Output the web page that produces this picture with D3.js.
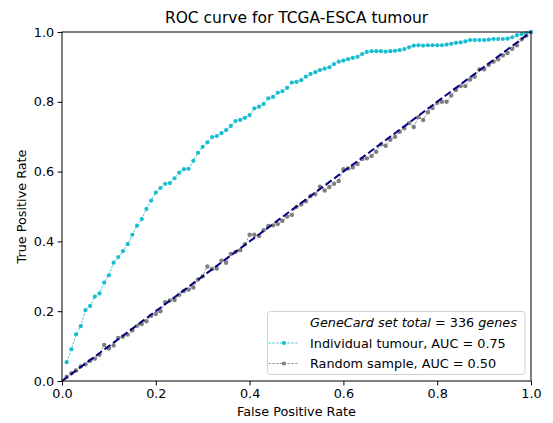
<!DOCTYPE html>
<html>
<head>
<meta charset="utf-8">
<script src="https://cdn.jsdelivr.net/npm/d3@7/dist/d3.min.js"></script>
<style>
  html, body { margin: 0; padding: 0; background: #fff; }
  svg { display: block; font-family: "DejaVu Sans", sans-serif; }
</style>
</head>
<body>
<svg id="chart" width="553" height="423"></svg>
<script>
const fpr = [0.01,0.02,0.03,0.04,0.05,0.06,0.07,0.08,0.09,0.10,
0.11,0.12,0.13,0.14,0.15,0.16,0.17,0.18,0.19,0.20,
0.21,0.22,0.23,0.24,0.25,0.26,0.27,0.28,0.29,0.30,
0.31,0.32,0.33,0.34,0.35,0.36,0.37,0.38,0.39,0.40,
0.41,0.42,0.43,0.44,0.45,0.46,0.47,0.48,0.49,0.50,
0.51,0.52,0.53,0.54,0.55,0.56,0.57,0.58,0.59,0.60,
0.61,0.62,0.63,0.64,0.65,0.66,0.67,0.68,0.69,0.70,
0.71,0.72,0.73,0.74,0.75,0.76,0.77,0.78,0.79,0.80,
0.81,0.82,0.83,0.84,0.85,0.86,0.87,0.88,0.89,0.90,
0.91,0.92,0.93,0.94,0.95,0.96,0.97,0.98,0.99,1.00];

const tumourTpr = [0.054,0.091,0.134,0.157,0.203,0.215,0.242,0.251,0.282,0.303,
0.339,0.355,0.372,0.392,0.419,0.445,0.464,0.493,0.517,0.540,
0.553,0.565,0.567,0.581,0.597,0.607,0.608,0.631,0.654,0.671,
0.684,0.699,0.702,0.710,0.719,0.731,0.745,0.748,0.754,0.762,
0.781,0.786,0.794,0.810,0.814,0.826,0.830,0.840,0.855,0.857,
0.862,0.872,0.880,0.885,0.891,0.895,0.899,0.908,0.915,0.918,
0.922,0.926,0.929,0.937,0.943,0.945,0.945,0.945,0.944,0.945,
0.946,0.948,0.951,0.956,0.961,0.962,0.961,0.962,0.962,0.962,
0.962,0.964,0.966,0.969,0.970,0.973,0.977,0.977,0.977,0.977,
0.978,0.980,0.980,0.980,0.981,0.985,0.991,0.994,0.997,1.000];

const randomTpr = [0.012,0.022,0.030,0.042,0.048,0.058,0.064,0.075,0.103,0.093,
0.102,0.123,0.127,0.133,0.145,0.158,0.163,0.171,0.187,0.192,
0.200,0.226,0.231,0.232,0.247,0.258,0.262,0.268,0.291,0.300,
0.328,0.321,0.322,0.345,0.339,0.364,0.370,0.375,0.392,0.419,
0.419,0.415,0.432,0.444,0.446,0.450,0.459,0.471,0.476,0.499,
0.506,0.515,0.530,0.535,0.557,0.546,0.556,0.565,0.573,0.607,
0.609,0.612,0.622,0.636,0.638,0.645,0.657,0.678,0.674,0.691,
0.700,0.714,0.724,0.739,0.728,0.756,0.748,0.770,0.782,0.797,
0.800,0.800,0.818,0.834,0.845,0.845,0.864,0.872,0.893,0.893,
0.906,0.915,0.922,0.933,0.940,0.952,0.962,0.979,0.990,1.000];

const diagonal = [[0, 0], [1, 1]];
const ticks = [0.0, 0.2, 0.4, 0.6, 0.8, 1.0];
const title = "ROC curve for TCGA-ESCA tumour";
const xLabel = "False Positive Rate";
const yLabel = "True Positive Rate";
const legendHeader = [["GeneCard set total", true], [" = 336 ", false], ["genes", true]];
const legendLabels = ["Individual tumour, AUC = 0.75", "Random sample, AUC = 0.50"];

const svg = d3.select("#chart");
const x = d3.scaleLinear().domain([0, 1]).range([62, 531]);
const y = d3.scaleLinear().domain([0, 1]).range([381, 32]);
const FS = 12.8;

// series
const line = d3.line().x(d => x(d[0])).y(d => y(d[1]));
const rnd = fpr.map((f, i) => [f, randomTpr[i]]);
const tum = fpr.map((f, i) => [f, tumourTpr[i]]);

function drawSeries(data, color, r) {
  const g = svg.append("g");
  g.append("path").datum(data).attr("d", line)
    .attr("fill", "none").attr("stroke", color)
    .attr("stroke-width", 0.8).attr("stroke-dasharray", "2.5,1.3");
  g.selectAll("circle").data(data).join("circle")
    .attr("cx", d => x(d[0])).attr("cy", d => y(d[1]))
    .attr("r", r).attr("fill", color);
}
drawSeries(rnd, "#7f7f7f", 2.2);
drawSeries(tum, "#17becf", 2.1);

svg.append("path").datum(diagonal).attr("d", line)
  .attr("fill", "none").attr("stroke", "#000080")
  .attr("stroke-width", 2).attr("stroke-dasharray", "7.4,3.2");

// axes
const xAxis = d3.axisBottom(x).tickValues(ticks).tickFormat(d3.format(".1f"))
  .tickSizeInner(4.4).tickSizeOuter(0).tickPadding(3.5);
const yAxis = d3.axisLeft(y).tickValues(ticks).tickFormat(d3.format(".1f"))
  .tickSizeInner(4.4).tickSizeOuter(0).tickPadding(3.5);

const gx = svg.append("g").attr("transform", "translate(0,381)").call(xAxis);
const gy = svg.append("g").attr("transform", "translate(62,0)").call(yAxis);
[gx, gy].forEach(g => {
  g.select(".domain").remove();
  g.selectAll("text").attr("font-size", FS).attr("fill", "#000")
    .attr("font-family", "DejaVu Sans");
  g.selectAll("line").attr("stroke", "#000").attr("stroke-width", 1);
});

// frame
svg.append("rect").attr("x", 62).attr("y", 32).attr("width", 469).attr("height", 349)
  .attr("fill", "none").attr("stroke", "#000").attr("stroke-width", 1);

// labels
svg.append("text").attr("x", (62 + 531) / 2).attr("y", 23)
  .attr("text-anchor", "middle").attr("font-size", 15.5).text(title);
svg.append("text").attr("x", (62 + 531) / 2).attr("y", 416)
  .attr("text-anchor", "middle").attr("font-size", FS).text(xLabel);
svg.append("text").attr("transform", "translate(26," + ((32 + 381) / 2) + ") rotate(-90)")
  .attr("text-anchor", "middle").attr("font-size", FS).text(yLabel);

// legend
const lg = svg.append("g");
lg.append("rect").attr("x", 267.5).attr("y", 311.5).attr("width", 257.5).attr("height", 63)
  .attr("rx", 3).attr("fill", "#fff").attr("fill-opacity", 0.8)
  .attr("stroke", "#d0d0d0").attr("stroke-width", 1);

const hdr = lg.append("text").attr("x", 310).attr("y", 327).attr("font-size", FS);
legendHeader.forEach(([t, it]) => {
  hdr.append("tspan").attr("font-style", it ? "italic" : "normal")
    .attr("xml:space", "preserve").style("white-space", "pre").text(t);
});

const handles = [["#17becf"], ["#7f7f7f"]];
legendLabels.forEach((lab, i) => {
  const cy = 343 + i * 20.5;
  lg.append("line").attr("x1", 268.5).attr("x2", 298.5).attr("y1", cy).attr("y2", cy)
    .attr("stroke", handles[i][0]).attr("stroke-width", 0.8).attr("stroke-dasharray", "2.5,1.3");
  lg.append("circle").attr("cx", 284).attr("cy", cy).attr("r", 2.1).attr("fill", handles[i][0]);
  lg.append("text").attr("x", 310).attr("y", cy + 4.5).attr("font-size", FS).text(lab);
});
</script>
</body>
</html>
